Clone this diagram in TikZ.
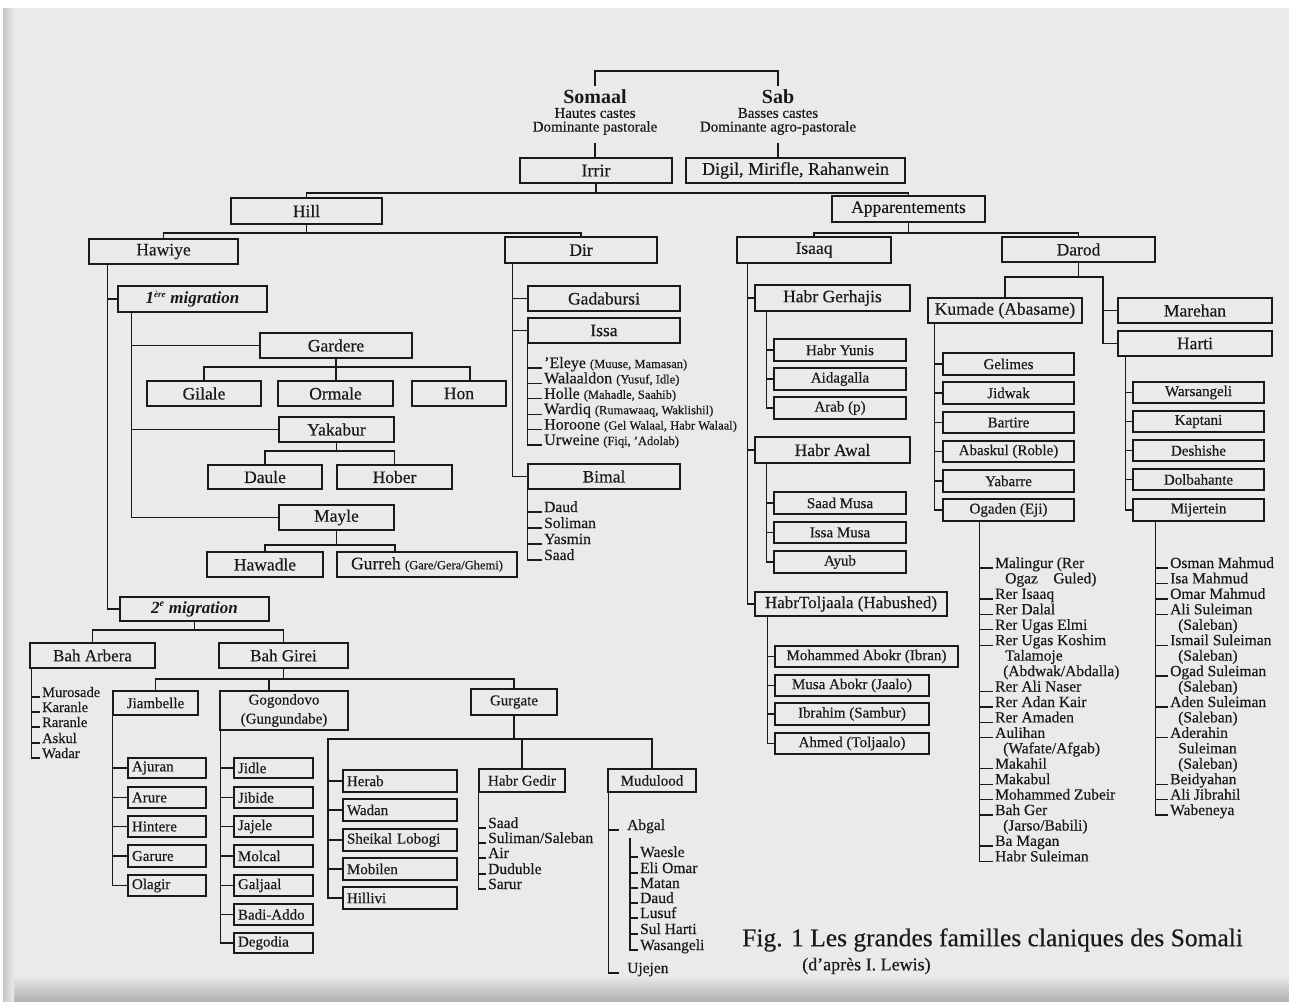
\documentclass[tikz,border=0pt]{standalone}
\usepackage{fontspec}
\setmainfont{Liberation Serif}[UprightFeatures={FakeBold=0.35}]
\usetikzlibrary{calc}
\newcommand\fsz[1]{\fontsize{#1}{#1}\selectfont}
\definecolor{paper}{RGB}{234,234,234}
\definecolor{ink}{RGB}{25,25,25}
\tikzset{
 ln/.style={draw=ink,line width=1.3pt},
 box/.style={draw=ink,line width=1.3pt,inner sep=0pt,font=\fsz{17.5},text=ink},
 sm/.style={font=\fsz{15}},
 lft/.style={text width=\bxt pt,align=left},
 item/.style={anchor=base west,inner sep=0pt,font=\fsz{15.5},text=ink},
 head/.style={inner sep=1pt,font=\bfseries\fsz{20},text=ink},
 sub/.style={inner sep=1pt,font=\fsz{15},text=ink},
}
\newcommand\bx[7][]{%
 \pgfmathsetmacro\bxw{#5-#3}\pgfmathsetmacro\bxh{#6-#4}%
 \pgfmathsetmacro\bxt{#5-#3-8}%
 \pgfmathsetmacro\bxx{(#3+#5)/2}\pgfmathsetmacro\bxy{(#4+#6)/2}%
 \node[box,minimum width=\bxw pt,minimum height=\bxh pt,#1] (#2) at (\bxx,\bxy) {#7};}
\newcommand\lt[5][]{\node[item,#1] (#2) at (#3,#4) {#5};}
\newcommand\tk[2]{\draw[ln] (#1 |- #2.base west) -- ([xshift=-2pt]#2.base west);}
\newcommand\tb[2]{\draw[ln] (#1 |- #2.west) -- (#2.west);}
\begin{document}
\begin{tikzpicture}[x=1pt,y=-1pt]
\useasboundingbox (0,0) rectangle (1289,1001);
\fill[white] (0,0) rectangle (1289,1001);
\fill[paper] (3,8) rectangle (1289,1001);
\shade[top color=paper,bottom color=black!30] (3,975) rectangle (1289,1001);
\shade[left color=black!22,right color=paper] (3,8) rectangle (14,1001);

% ---------- top ----------
\node[head] (somaal) at (595,97) {Somaal};
\node[sub] (somaal2) at (595,113) {Hautes castes};
\node[sub] (somaal3) at (595,128) {Dominante pastorale};
\node[head] (sab) at (778,97) {Sab};
\node[sub] (sab2) at (778,113) {Basses castes};
\node[sub] (sab3) at (778,128) {Dominante agro-pastorale};
\coordinate (topbar) at (686,71);
\draw[ln] ([yshift=3pt]somaal.north) |- (topbar) -| ([yshift=3pt]sab.north);

\bx[font=\fsz{18}]{irrir}{520}{158}{672}{183}{Irrir}
\bx[font=\fsz{18}]{digil}{686}{158}{905}{183}{Digil, Mirifle, Rahanwein}
\draw[ln] ([yshift=-7pt]somaal3.south) -- (somaal3.south |- irrir.north);
\draw[ln] ([yshift=-7pt]sab3.south) -- (sab3.south |- digil.north);

\bx{hill}{231}{198}{382}{224}{Hill}
\bx{appar}{832}{196}{985}{222}{Apparentements}
\coordinate (b1) at (0,193);
\draw[ln] (irrir.south) -- (irrir.south |- b1);
\draw[ln] (hill.north) |- (appar.north |- b1) -- (appar.north);

\bx{hawiye}{89}{239}{238}{264}{Hawiye}
\bx{dir}{505}{237}{657}{263}{Dir}
\bx{isaaq}{737}{237}{891}{263}{Isaaq}
\bx{darod}{1002}{237}{1155}{262}{Darod}
\coordinate (b2) at (0,233);
\draw[ln] (hill.south) -- (hill.south |- b2);
\draw[ln] (hawiye.north) |- (dir.north |- b2) -- (dir.north);
\draw[ln] (appar.south) -- (appar.south |- b2);
\draw[ln] (isaaq.north) |- (darod.north |- b2) -- (darod.north);

% ---------- Hawiye ----------
\bx[font=\bfseries\itshape\fsz{17}]{mig1}{118}{286}{267}{312}{1\textsuperscript{\fsz{9}ère} migration}
\bx[font=\bfseries\itshape\fsz{17}]{mig2}{120}{597}{269}{621}{2\textsuperscript{\fsz{10}e} migration}
\coordinate (tHa) at ([xshift=19pt]hawiye.south west);
\draw[ln] (tHa) |- (mig2.west);
\tb{tHa}{mig1}

\bx{gardere}{260}{333}{412}{358}{Gardere}
\bx{gilale}{147}{381}{261}{406}{Gilale}
\bx{ormale}{278}{381}{393}{406}{Ormale}
\bx{hon}{412}{381}{506}{406}{Hon}
\bx{yakabur}{279}{417}{394}{442}{Yakabur}
\bx{daule}{208}{465}{322}{489}{Daule}
\bx{hober}{337}{465}{452}{489}{Hober}
\bx{mayle}{279}{505}{394}{530}{Mayle}
\bx{hawadle}{207}{552}{323}{577}{Hawadle}
\bx{gurreh}{337}{552}{517}{577}{Gurreh {\fsz{12.5}(Gare/Gera/Ghemi)}}
\coordinate (tM1) at ([xshift=14pt]mig1.south west);
\draw[ln] (tM1) |- (mayle.west);
\tb{tM1}{gardere}
\tb{tM1}{yakabur}
\coordinate (b3) at (0,367);
\draw[ln] (gardere.south) -- (gardere.south |- ormale.north);
\draw[ln] (gilale.north) |- ([xshift=11pt]hon.north |- b3) -- ([xshift=11pt]hon.north);
\coordinate (b4) at (0,451);
\draw[ln] (yakabur.south) -- (yakabur.south |- b4);
\draw[ln] (daule.north) |- (hober.north |- b4) -- (hober.north);
\coordinate (b5) at (0,545);
\draw[ln] (mayle.south) -- (mayle.south |- b5);
\draw[ln] (hawadle.north) |- ([xshift=-32pt]gurreh.north |- b5) -- ([xshift=-32pt]gurreh.north);

% 2e migration
\bx[font=\fsz{17}]{baharb}{30}{643}{155}{668}{Bah Arbera}
\bx[font=\fsz{17}]{bahgir}{219}{643}{348}{668}{Bah Girei}
\coordinate (b6) at (0,630);
\draw[ln] (mig2.south) -- (mig2.south |- b6);
\draw[ln] (baharb.north) |- (bahgir.north |- b6) -- (bahgir.north);

\lt[font=\fsz{14.5}]{muro}{42}{697}{Murosade}
\lt[font=\fsz{14.5}]{kara}{42}{712}{Karanle}
\lt[font=\fsz{14.5}]{rara}{42}{727}{Raranle}
\lt[font=\fsz{14.5}]{asku}{42}{743}{Askul}
\lt[font=\fsz{14.5}]{wada}{42}{758}{Wadar}
\coordinate (tBA) at ([xshift=2pt]baharb.south west);
\draw[ln] (tBA) |- ([xshift=-2pt]wada.base west);
\tk{tBA}{muro}\tk{tBA}{kara}\tk{tBA}{rara}\tk{tBA}{asku}

\bx[sm]{jiamb}{113}{691}{198}{715}{Jiambelle}
\bx[font=\fontsize{15}{19}\selectfont,align=center]{gogon}{220}{691}{348}{730}{Gogondovo\\(Gungundabe)}
\bx[sm]{gurgate}{471}{689}{557}{715}{Gurgate}
\coordinate (b7) at (0,679);
\draw[ln] (bahgir.south) -- (bahgir.south |- b7);
\draw[ln] (jiamb.north) |- (gurgate.north |- b7) -- (gurgate.north);
\draw[ln] ([xshift=-15pt]gogon.north |- b7) -- ([xshift=-15pt]gogon.north);

\bx[sm,lft]{ajuran}{128}{758}{206}{778}{Ajuran}
\bx[sm,lft]{arure}{128}{787}{206}{808}{Arure}
\bx[sm,lft]{hintere}{128}{816}{206}{837}{Hintere}
\bx[sm,lft]{garure}{128}{845}{206}{867}{Garure}
\bx[sm,lft]{olagir}{128}{875}{206}{896}{Olagir}
\coordinate (tJ) at (jiamb.south west);
\draw[ln] (tJ) |- (olagir.west);
\tb{tJ}{ajuran}\tb{tJ}{arure}\tb{tJ}{hintere}\tb{tJ}{garure}

\bx[sm,lft]{jidle}{234}{758}{313}{778}{Jidle}
\bx[sm,lft]{jibide}{234}{787}{313}{808}{Jibide}
\bx[sm,lft]{jajele}{234}{816}{313}{837}{Jajele}
\bx[sm,lft]{molcal}{234}{845}{313}{867}{Molcal}
\bx[sm,lft]{galjaal}{234}{875}{313}{896}{Galjaal}
\bx[sm,lft]{badi}{234}{904}{313}{925}{Badi-Addo}
\bx[sm,lft]{degodia}{234}{933}{313}{953}{Degodia}
\coordinate (tG) at ([xshift=1pt]gogon.south west);
\draw[ln] (tG) |- (degodia.west);
\tb{tG}{jidle}\tb{tG}{jibide}\tb{tG}{jajele}\tb{tG}{molcal}\tb{tG}{galjaal}\tb{tG}{badi}

\bx[sm,lft]{herab}{343}{770}{457}{792}{Herab}
\bx[sm,lft]{wadan}{343}{799}{457}{821}{Wadan}
\bx[sm,lft]{sheikal}{343}{829}{457}{851}{Sheikal Lobogi}
\bx[sm,lft]{mobilen}{343}{858}{457}{880}{Mobilen}
\bx[sm,lft]{hillivi}{343}{887}{457}{909}{Hillivi}
\bx[sm]{hgedir}{479}{769}{565}{792}{Habr Gedir}
\bx[sm]{mudul}{608}{769}{696}{792}{Mudulood}
\coordinate (b8) at (0,739);
\coordinate (tHe) at (328,739);
\draw[ln] (gurgate.south) -- (gurgate.south |- b8);
\draw[ln] (hillivi.west) -| (tHe) -| (mudul.north);
\draw[ln] (hgedir.north |- b8) -- (hgedir.north);
\tb{tHe}{herab}\tb{tHe}{wadan}\tb{tHe}{sheikal}\tb{tHe}{mobilen}

\lt{hg1}{488}{828}{Saad}
\lt{hg2}{488}{843}{Suliman/Saleban}
\lt{hg3}{488}{858}{Air}
\lt{hg4}{488}{874}{Duduble}
\lt{hg5}{488}{889}{Sarur}
\coordinate (tHg) at (hgedir.south west);
\draw[ln] (tHg) |- ([xshift=-2pt]hg5.base west);
\tk{tHg}{hg1}\tk{tHg}{hg2}\tk{tHg}{hg3}\tk{tHg}{hg4}

\lt{abgal}{627}{830}{Abgal}
\lt{ujejen}{627}{973}{Ujejen}
\coordinate (tMu) at ([xshift=1pt]mudul.south west);
\draw[ln] (tMu) |- ([xshift=-8pt]ujejen.base west);
\draw[ln] (tMu |- abgal.base west) -- ([xshift=-8pt]abgal.base west);
\lt{ab1}{640}{857}{Waesle}
\lt{ab2}{640}{873}{Eli Omar}
\lt{ab3}{640}{888}{Matan}
\lt{ab4}{640}{903}{Daud}
\lt{ab5}{640}{918}{Lusuf}
\lt{ab6}{640}{934}{Sul Harti}
\lt{ab7}{640}{950}{Wasangeli}
\coordinate (tAb) at ([xshift=3pt,yshift=-8pt]abgal.base west);
\draw[ln] (tAb) |- ([xshift=-2pt]ab7.base west);
\tk{tAb}{ab1}\tk{tAb}{ab2}\tk{tAb}{ab3}\tk{tAb}{ab4}\tk{tAb}{ab5}\tk{tAb}{ab6}

% ---------- Dir ----------
\bx{gadab}{528}{286}{680}{311}{Gadabursi}
\bx{issa}{528}{318}{680}{343}{Issa}
\bx{bimal}{528}{464}{680}{489}{Bimal}
\coordinate (tD) at ([xshift=8pt]dir.south west);
\draw[ln] (tD) |- (bimal.west);
\tb{tD}{gadab}\tb{tD}{issa}

\lt[font=\fsz{16}]{is1}{544}{368}{'Eleye {\fsz{12.5}(Muuse, Mamasan)}}
\lt[font=\fsz{16}]{is2}{544}{383.4}{Walaaldon {\fsz{12.5}(Yusuf, Idle)}}
\lt[font=\fsz{16}]{is3}{544}{398.8}{Holle {\fsz{12.5}(Mahadle, Saahib)}}
\lt[font=\fsz{16}]{is4}{544}{414.2}{Wardiq {\fsz{12.5}(Rumawaaq, Waklishil)}}
\lt[font=\fsz{16}]{is5}{544}{429.6}{Horoone {\fsz{12.5}(Gel Walaal, Habr Walaal)}}
\lt[font=\fsz{16}]{is6}{544}{445}{Urweine {\fsz{12.5}(Fiqi, 'Adolab)}}
\coordinate (tIl) at (issa.south west);
\draw[ln] (tIl) |- ([xshift=-2pt]is6.base west);
\tk{tIl}{is1}\tk{tIl}{is2}\tk{tIl}{is3}\tk{tIl}{is4}\tk{tIl}{is5}

\lt{bm1}{544}{512}{Daud}
\lt{bm2}{544}{528}{Soliman}
\lt{bm3}{544}{544}{Yasmin}
\lt{bm4}{544}{560}{Saad}
\coordinate (tBm) at (bimal.south west);
\draw[ln] (tBm) |- ([xshift=-2pt]bm4.base west);
\tk{tBm}{bm1}\tk{tBm}{bm2}\tk{tBm}{bm3}

% ---------- Isaaq ----------
\bx{gerhajis}{755}{285}{910}{311}{Habr Gerhajis}
\bx{awal}{755}{437}{910}{463}{Habr Awal}
\bx[font=\fsz{17}]{toljaala}{755}{592}{947}{616}{HabrToljaala (Habushed)}
\coordinate (tIs) at ([xshift=11pt]isaaq.south west);
\draw[ln] (tIs) |- (toljaala.west);
\tb{tIs}{gerhajis}\tb{tIs}{awal}

\bx[sm]{yunis}{774}{339}{906}{361}{Habr Yunis}
\bx[sm]{aidag}{774}{368}{906}{390}{Aidagalla}
\bx[sm]{arab}{774}{397}{906}{419}{Arab (p)}
\coordinate (tGe) at ([xshift=12pt]gerhajis.south west);
\draw[ln] (tGe) |- (arab.west);
\tb{tGe}{yunis}\tb{tGe}{aidag}

\bx[sm]{saadm}{774}{492}{906}{514}{Saad Musa}
\bx[sm]{issam}{774}{522}{906}{543}{Issa Musa}
\bx[sm]{ayub}{774}{551}{906}{573}{Ayub}
\coordinate (tAw) at ([xshift=12pt]awal.south west);
\draw[ln] (tAw) |- (ayub.west);
\tb{tAw}{saadm}\tb{tAw}{issam}

\bx[sm]{mabokr}{775}{646}{958}{667}{Mohammed Abokr (Ibran)}
\bx[sm]{musa}{775}{675}{929}{696}{Musa Abokr (Jaalo)}
\bx[sm]{ibrahim}{775}{703}{929}{725}{Ibrahim (Sambur)}
\bx[sm]{ahmed}{775}{733}{929}{754}{Ahmed (Toljaalo)}
\coordinate (tTo) at ([xshift=13pt]toljaala.south west);
\draw[ln] (tTo) |- (ahmed.west);
\tb{tTo}{mabokr}\tb{tTo}{musa}\tb{tTo}{ibrahim}

% ---------- Darod ----------
\bx{kumade}{928}{298}{1082}{323}{Kumade (Abasame)}
\bx{marehan}{1118}{298}{1272}{323}{Marehan}
\bx{harti}{1118}{331}{1272}{356}{Harti}
\coordinate (b9) at (0,277);
\coordinate (tDa) at (1103,277);
\draw[ln] (darod.south) -- (darod.south |- b9);
\draw[ln] (kumade.north) |- (tDa) |- (harti.west);
\tb{tDa}{marehan}

\bx[sm]{gelimes}{943}{353}{1074}{375}{Gelimes}
\bx[sm]{jidwak}{943}{382}{1074}{404}{Jidwak}
\bx[sm]{bartire}{943}{412}{1074}{433}{Bartire}
\bx[sm]{abaskul}{943}{441}{1074}{462}{Abaskul (Roble)}
\bx[sm]{yabarre}{943}{470}{1074}{492}{Yabarre}
\bx[sm]{ogaden}{943}{499}{1074}{521}{Ogaden (Eji)}
\coordinate (tKu) at ([xshift=7pt]kumade.south west);
\draw[ln] (tKu) |- (ogaden.west);
\tb{tKu}{gelimes}\tb{tKu}{jidwak}\tb{tKu}{bartire}\tb{tKu}{abaskul}\tb{tKu}{yabarre}

\bx[sm]{warsang}{1133}{382}{1264}{403}{Warsangeli}
\bx[sm]{kaptani}{1133}{411}{1264}{432}{Kaptani}
\bx[sm]{deshishe}{1133}{440}{1264}{461}{Deshishe}
\bx[sm]{dolba}{1133}{469}{1264}{490}{Dolbahante}
\bx[sm]{mijer}{1133}{499}{1264}{521}{Mijertein}
\coordinate (tHr) at ([xshift=8pt]harti.south west);
\draw[ln] (tHr) |- (mijer.west);
\tb{tHr}{warsang}\tb{tHr}{kaptani}\tb{tHr}{deshishe}\tb{tHr}{dolba}

% Ogaden list
\lt{og1}{995}{568}{Malingur (Rer}
\lt{og1b}{1005}{583.4}{Ogaz\quad Guled)}
\lt{og2}{995}{598.9}{Rer Isaaq}
\lt{og3}{995}{614.3}{Rer Dalal}
\lt{og4}{995}{629.8}{Rer Ugas Elmi}
\lt{og5}{995}{645.2}{Rer Ugas Koshim}
\lt{og5b}{1005}{660.6}{Talamoje}
\lt{og5c}{1003}{676.1}{(Abdwak/Abdalla)}
\lt{og6}{995}{691.5}{Rer Ali Naser}
\lt{og7}{995}{707}{Rer Adan Kair}
\lt{og8}{995}{722.4}{Rer Amaden}
\lt{og9}{995}{737.8}{Aulihan}
\lt{og9b}{1003}{753.3}{(Wafate/Afgab)}
\lt{og10}{995}{768.7}{Makahil}
\lt{og11}{995}{784.2}{Makabul}
\lt{og12}{995}{799.6}{Mohammed Zubeir}
\lt{og13}{995}{815}{Bah Ger}
\lt{og13b}{1003}{830.5}{(Jarso/Babili)}
\lt{og14}{995}{845.9}{Ba Magan}
\lt{og15}{995}{861.4}{Habr Suleiman}
\coordinate (tOg) at ([xshift=37pt]ogaden.south west);
\draw[ln] (tOg) |- ([xshift=-2pt]og15.base west);
\tk{tOg}{og1}\tk{tOg}{og2}\tk{tOg}{og3}\tk{tOg}{og4}\tk{tOg}{og5}\tk{tOg}{og6}
\tk{tOg}{og7}\tk{tOg}{og8}\tk{tOg}{og9}\tk{tOg}{og10}\tk{tOg}{og11}\tk{tOg}{og12}
\tk{tOg}{og13}\tk{tOg}{og14}

% Mijertein list
\lt{mj1}{1170}{568}{Osman Mahmud}
\lt{mj2}{1170}{583.4}{Isa Mahmud}
\lt{mj3}{1170}{598.9}{Omar Mahmud}
\lt{mj4}{1170}{614.3}{Ali Suleiman}
\lt{mj4b}{1178}{629.8}{(Saleban)}
\lt{mj5}{1170}{645.2}{Ismail Suleiman}
\lt{mj5b}{1178}{660.6}{(Saleban)}
\lt{mj6}{1170}{676.1}{Ogad Suleiman}
\lt{mj6b}{1178}{691.5}{(Saleban)}
\lt{mj7}{1170}{707}{Aden Suleiman}
\lt{mj7b}{1178}{722.4}{(Saleban)}
\lt{mj8}{1170}{737.8}{Aderahin}
\lt{mj8b}{1178}{753.3}{Suleiman}
\lt{mj8c}{1178}{768.7}{(Saleban)}
\lt{mj9}{1170}{784.2}{Beidyahan}
\lt{mj10}{1170}{799.6}{Ali Jibrahil}
\lt{mj11}{1170}{815}{Wabeneya}
\coordinate (tMj) at ([xshift=23pt]mijer.south west);
\draw[ln] (tMj) |- ([xshift=-2pt]mj11.base west);
\tk{tMj}{mj1}\tk{tMj}{mj2}\tk{tMj}{mj3}\tk{tMj}{mj4}\tk{tMj}{mj5}\tk{tMj}{mj6}
\tk{tMj}{mj7}\tk{tMj}{mj8}\tk{tMj}{mj9}\tk{tMj}{mj10}

% caption
\node[anchor=west,inner sep=0pt,font=\fsz{25.5},text=ink] (cap) at (742,940) {Fig. 1 Les grandes familles claniques des Somali};
\node[anchor=west,inner sep=0pt,font=\fsz{18},text=ink] (cap2) at (802,966) {(d'après I. Lewis)};
\end{tikzpicture}
\end{document}
